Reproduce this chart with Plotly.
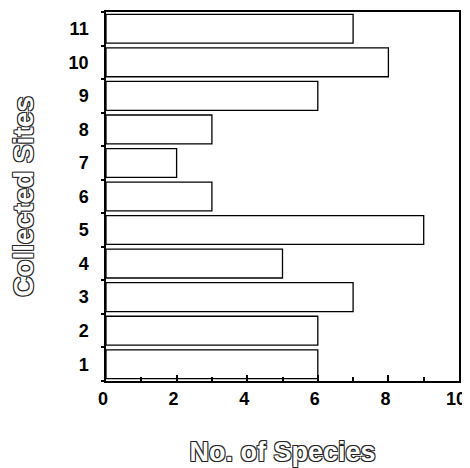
import plotly.graph_objects as go

sites = [1, 2, 3, 4, 5, 6, 7, 8, 9, 10, 11]
species = [6, 6, 7, 5, 9, 3, 2, 3, 6, 8, 7]
x_ticks = [0, 2, 4, 6, 8, 10]

fig = go.Figure()
fig.add_trace(go.Bar(
    x=species, y=sites, orientation="h",
    marker=dict(color="white", line=dict(color="black", width=1.3)),
    width=0.86,
))

outline = "1px 1px 0 #222, -1px -1px 0 #222, 1px -1px 0 #222, -1px 1px 0 #222"

fig.update_layout(
    width=462, height=460,
    margin=dict(l=97, r=11, t=2, b=87),
    paper_bgcolor="white", plot_bgcolor="white",
    showlegend=False,
    font=dict(family="Liberation Sans", color="black", size=18),
    xaxis=dict(
        range=[0, 10], tickvals=x_ticks, ticktext=[str(v) for v in x_ticks],
        showgrid=False, zeroline=False,
        showline=True, linecolor="black", linewidth=2, mirror=True,
        ticks="inside", ticklen=6, tickcolor="black", tickwidth=1.5,
        minor=dict(ticks="inside", tick0=0, dtick=1, ticklen=4, tickcolor="black"),
        ticklabelshift=-3,
        tickfont=dict(family="Liberation Sans", size=18, weight="bold"),
        title=dict(text="No. of Species", standoff=35,
                   font=dict(family="Liberation Sans", size=27, color="white",
                             weight="bold", shadow=outline)),
    ),
    yaxis=dict(
        range=[0.5, 11.5], tickvals=sites, ticktext=[str(v) for v in sites],
        showgrid=False, zeroline=False,
        showline=True, linecolor="black", linewidth=1.5, mirror=True,
        ticks="", ticklabelstandoff=12,
        minor=dict(ticks="outside", tick0=0.5, dtick=1, ticklen=3, tickcolor="black", tickwidth=1.5),
        tickfont=dict(family="Liberation Sans", size=18, weight="bold"),
        title=dict(text="Collected Sites", standoff=39,
                   font=dict(family="Liberation Sans", size=28, color="white",
                             weight="bold", shadow=outline)),
    ),
)

fig.write_html("out.html", config={"displayModeBar": False})
